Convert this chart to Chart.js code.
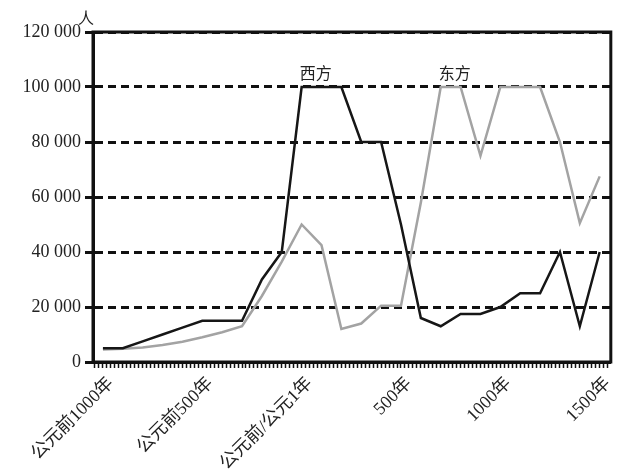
<!DOCTYPE html>
<html>
<head>
<meta charset="utf-8">
<script src="https://cdn.jsdelivr.net/npm/chart.js@4/dist/chart.umd.min.js"></script>
<style>
html,body{margin:0;padding:0;background:#fff;}
#wrap{width:628px;height:471px;position:relative;}
</style>
</head>
<body>
<div id="wrap"><canvas id="c" width="628" height="471"></canvas></div>
<script>
// Data (years, with 0 = 公元前/公元1年 boundary)
const years = [-1000,-900,-800,-700,-600,-500,-400,-300,-200,-100,0,100,200,300,400,500,600,700,800,900,1000,1100,1200,1300,1400,1500];
const west  = [5000,5000,7500,10000,12500,15000,15000,15000,30000,40000,100000,100000,100000,80000,80000,50000,16000,13000,17500,17500,20000,25000,25000,40000,13000,40000];
const east  = [4500,4800,5300,6200,7400,9000,10800,13000,24000,36500,50000,42500,12000,14000,20500,20500,58000,100000,100000,75000,100000,100000,100000,80000,50500,67500];
const tickYears  = [-1000,-500,0,500,1000,1500];
const tickLabels = ['公元前1000年','公元前500年','公元前/公元1年','500年','1000年','1500年'];
const seriesNames = ['西方','东方'];
const yUnit = '人';

const serif = "'Liberation Serif','Noto Sans CJK SC',serif";
const cjk = "'Noto Sans CJK SC','Liberation Serif',serif";

const toPts = arr => years.map((y,i)=>({x:y,y:arr[i]}));

const frame = {
  id:'frame',
  afterDraw(chart){
    const {ctx, chartArea:a, scales} = chart;
    ctx.save();
    ctx.strokeStyle = '#111';
    ctx.lineWidth = 3;
    ctx.strokeRect(a.left, a.top, a.right - a.left, a.bottom - a.top);
    ctx.fillStyle = '#222';
    ctx.font = "16px " + cjk;
    ctx.textAlign = 'left';
    ctx.textBaseline = 'alphabetic';
    ctx.fillText(yUnit, 78, 24);
    const xs = scales.x, ys = scales.y;
    ctx.fillText(seriesNames[0], xs.getPixelForValue(-10), ys.getPixelForValue(100000) - 8);
    ctx.fillText(seriesNames[1], xs.getPixelForValue(690), ys.getPixelForValue(100000) - 8);
    ctx.restore();
  }
};

new Chart(document.getElementById('c'), {
  type:'line',
  data:{
    datasets:[
      {label:seriesNames[0], data:toPts(west), borderColor:'#161616', borderWidth:2.5, pointRadius:0, tension:0, fill:false},
      {label:seriesNames[1], data:toPts(east), borderColor:'#a3a3a3', borderWidth:2.5, pointRadius:0, tension:0, fill:false}
    ]
  },
  plugins:[frame],
  options:{
    responsive:false,
    animation:false,
    layout:{padding:{top:32,right:15,left:0,bottom:0}},
    plugins:{legend:{display:false},tooltip:{enabled:false}},
    scales:{
      x:{
        type:'linear',
        min:-1050, max:1556,
        afterFit(s){ s.height = 109; },
        afterBuildTicks(s){
          const t=[];
          for(let v=-1040; v<=1556; v+=20) t.push({value:v});
          s.ticks = t;
        },
        grid:{display:true, drawOnChartArea:false, drawTicks:true, tickLength:6, tickWidth:1.5, tickColor:'#111', color:'#111'},
        border:{display:true, color:'#111', width:3},
        ticks:{
          autoSkip:false, minRotation:45, maxRotation:45, padding:5, labelOffset:8,
          color:'#222', font:{family:serif, size:18},
          callback(v){ const i = tickYears.indexOf(v); return i>=0 ? tickLabels[i] : ''; }
        }
      },
      y:{
        min:0, max:120000,
        afterFit(s){ s.width = 93; },
        grid:{display:true, color:'#111', lineWidth:3, tickLength:8, tickColor:'#111', tickWidth:3},
        border:{display:true, color:'#111', width:3, dash:[8,5]},
        ticks:{
          stepSize:20000, padding:4, color:'#222', font:{family:serif, size:18},
          callback(v){ return v===0 ? '0' : String(Math.floor(v/1000)) + ' 000'; }
        }
      }
    }
  }
});
</script>
</body>
</html>
